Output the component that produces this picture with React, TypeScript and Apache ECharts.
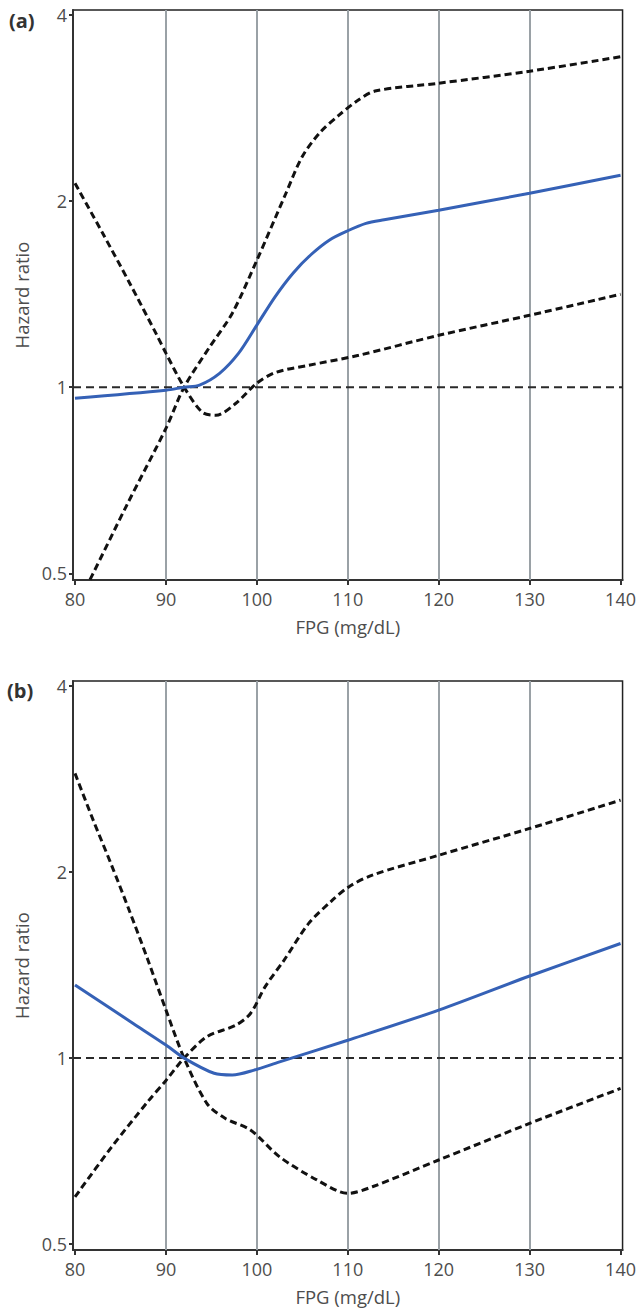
import React, { useEffect, useRef } from "react";
import * as echarts from "echarts";

const X_TICKS = [80, 90, 100, 110, 120, 130, 140];
const Y_TICKS = [0.5, 1, 2, 4];
const GRID_X = [90, 100, 110, 120, 130];
const REF_X = [79.78, 140.22];
const REF_HR = [1, 1];

// Panel (a)
const A_EST_X = [80, 90, 92, 93.7, 95.9, 98, 100, 102, 104, 106, 108, 110, 112, 114, 120, 130, 140];
const A_EST_HR = [0.96, 0.989, 1.0, 1.008, 1.053, 1.135, 1.26, 1.4, 1.53, 1.64, 1.73, 1.79, 1.84, 1.865, 1.932, 2.058, 2.201];
const A_UP_X = [80, 81.9, 85.7, 90, 92, 94.8, 97.3, 100, 103.2, 105, 107, 109, 111, 113, 120, 130, 140];
const A_UP_HR = [0.438, 0.497, 0.645, 0.858, 1.0, 1.161, 1.317, 1.604, 2.058, 2.36, 2.585, 2.75, 2.9, 3.01, 3.099, 3.241, 3.42];
const A_LO_X = [80, 83, 86, 89, 90, 92, 94, 95.5, 97.7, 100, 102.1, 105.7, 111.2, 120, 130, 140];
const A_LO_HR = [2.136, 1.778, 1.474, 1.214, 1.135, 1.0, 0.911, 0.901, 0.942, 1.015, 1.057, 1.085, 1.126, 1.213, 1.307, 1.413];

// Panel (b)
const B_EST_X = [80, 86.4, 90, 92, 95.3, 97.3, 99.7, 102.5, 110, 120, 130, 140];
const B_EST_HR = [1.313, 1.138, 1.05, 1.0, 0.945, 0.939, 0.956, 0.986, 1.069, 1.196, 1.358, 1.533];
const B_UP_X = [80, 84, 88, 90, 92, 94.5, 97.7, 99.3, 100.9, 103, 105.7, 108.1, 110.1, 112.7, 120, 130, 140];
const B_UP_HR = [0.596, 0.717, 0.85, 0.92, 1.0, 1.083, 1.131, 1.181, 1.304, 1.441, 1.652, 1.79, 1.893, 1.978, 2.13, 2.354, 2.616];
const B_LO_X = [80, 82, 84, 86, 88, 90, 92, 94.5, 96.5, 99.3, 102.5, 106.6, 110, 112.7, 120, 130, 140];
const B_LO_HR = [2.89, 2.428, 2.056, 1.729, 1.444, 1.197, 1.0, 0.845, 0.799, 0.765, 0.692, 0.635, 0.604, 0.619, 0.684, 0.784, 0.893];

const FONT = "'Open Sans', 'Noto Sans', sans-serif";
const TXT = "#4d4d4d";

const pts = (xs: number[], hr: number[]) => xs.map((x, i) => [x, Math.log2(hr[i])]);

function panelAxes(gi: number, yMin: number, yMax: number) {
  const logTicks = Y_TICKS.map((t) => Math.log2(t));
  return {
    x: {
      type: "value",
      gridIndex: gi,
      position: "bottom",
      min: 79.78,
      max: 140.22,
      name: "FPG (mg/dL)",
      nameLocation: "middle",
      nameGap: 37,
      nameTextStyle: { fontSize: 18.5, color: TXT, fontFamily: FONT },
      axisLine: { show: true, onZero: false, lineStyle: { color: "#333", width: 2 } },
      axisTick: { show: true, customValues: X_TICKS, length: 5, lineStyle: { color: "#333", width: 2 } },
      axisLabel: { customValues: X_TICKS, margin: 10, fontSize: 18, color: TXT, fontFamily: FONT },
      splitLine: { show: false },
    },
    y: {
      type: "value",
      gridIndex: gi,
      position: "left",
      min: yMin,
      max: yMax,
      name: "Hazard ratio",
      nameLocation: "middle",
      nameGap: 39,
      nameTextStyle: { fontSize: 18.5, color: TXT, fontFamily: FONT },
      axisLine: { show: true, onZero: false, lineStyle: { color: "#333", width: 2 } },
      axisTick: { show: true, customValues: logTicks, length: 4, lineStyle: { color: "#333", width: 2 } },
      axisLabel: {
        customValues: logTicks,
        margin: 6,
        fontSize: 18,
        color: TXT,
        fontFamily: FONT,
        formatter: (v: number) => {
          const t = Y_TICKS.find((tt) => Math.abs(Math.log2(tt) - v) < 1e-6);
          return t === undefined ? "" : String(t);
        },
      },
      splitLine: { show: false },
    },
  };
}

function panelSeries(gi: number, est: number[][], up: number[][], lo: number[][]) {
  const dashed = { color: "#111", width: 3, type: [7, 4] as number[] };
  const common = {
    type: "line",
    xAxisIndex: gi,
    yAxisIndex: gi,
    showSymbol: false,
    symbol: "none",
    smooth: 0.3,
    clip: true,
    z: 3,
  };
  return [
    {
      type: "line",
      xAxisIndex: gi,
      yAxisIndex: gi,
      data: [],
      showSymbol: false,
      z: 1,
      markLine: {
        silent: true,
        z: 1,
        symbol: ["none", "none"],
        label: { show: false },
        animation: false,
        lineStyle: { color: "#9aa1a6", width: 2, type: "solid" },
        data: GRID_X.map((v) => ({ xAxis: v })),
      },
    },
    {
      type: "line",
      xAxisIndex: gi,
      yAxisIndex: gi,
      data: pts(REF_X, REF_HR),
      showSymbol: false,
      symbol: "none",
      z: 2,
      lineStyle: { color: "#2a2a2a", width: 2, type: [8, 5] },
    },
    { ...common, data: up, lineStyle: dashed },
    { ...common, data: lo, lineStyle: dashed },
    { ...common, data: est, lineStyle: { color: "#3561b6", width: 3, type: "solid" } },
  ];
}

export default function App() {
  const ref = useRef<HTMLDivElement>(null);
  useEffect(() => {
    if (!ref.current) return;
    const chart = echarts.init(ref.current, null, { renderer: "svg" });
    const a = panelAxes(0, -1.035, 2.025);
    const b = panelAxes(1, -1.032, 2.028);
    chart.setOption({
      animation: false,
      backgroundColor: "#ffffff",
      grid: [
        { left: 73, top: 10, width: 552, height: 570, show: true, borderColor: "#222", borderWidth: 1.5, backgroundColor: "transparent" },
        { left: 73, top: 681, width: 552, height: 569, show: true, borderColor: "#222", borderWidth: 1.5, backgroundColor: "transparent" },
      ],
      xAxis: [a.x, b.x],
      yAxis: [a.y, b.y],
      graphic: [
        { type: "text", left: 9, top: 10, style: { text: "(a)", fontSize: 20, fontWeight: "bold", fill: "#333", fontFamily: FONT } },
        { type: "text", left: 7, top: 680, style: { text: "(b)", fontSize: 20, fontWeight: "bold", fill: "#333", fontFamily: FONT } },
      ],
      series: [
        ...panelSeries(0, pts(A_EST_X, A_EST_HR), pts(A_UP_X, A_UP_HR), pts(A_LO_X, A_LO_HR)),
        ...panelSeries(1, pts(B_EST_X, B_EST_HR), pts(B_UP_X, B_UP_HR), pts(B_LO_X, B_LO_HR)),
      ],
    });
    return () => chart.dispose();
  }, []);
  return <div ref={ref} style={{ position: "absolute", left: 0, top: 0, width: 639, height: 1309 }} />;
}
